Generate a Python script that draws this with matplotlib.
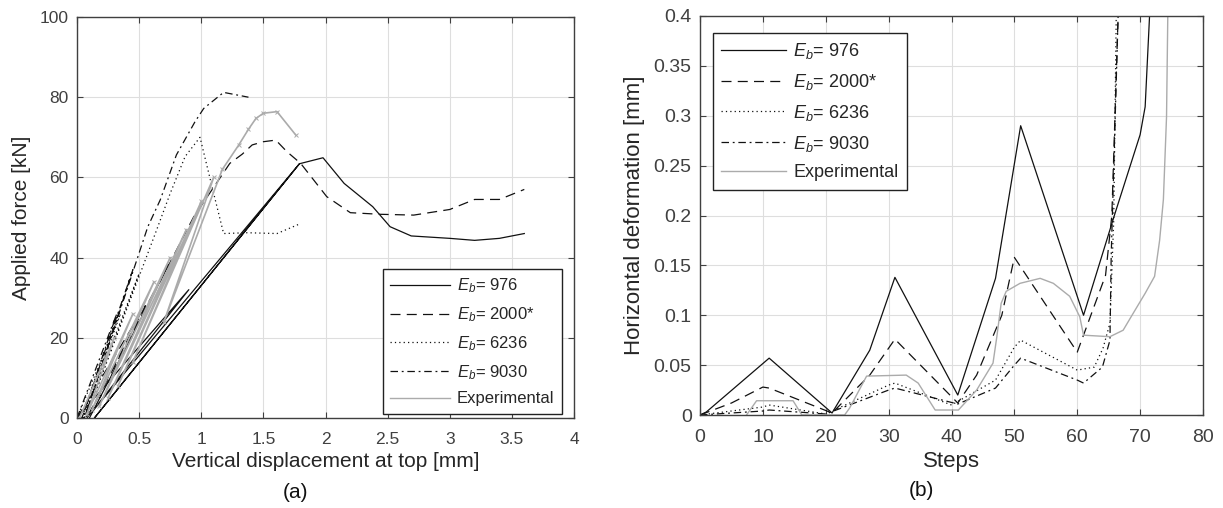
import matplotlib
matplotlib.use('Agg')
import matplotlib.pyplot as plt

plt.rcParams['font.family'] = ['Liberation Sans', 'DejaVu Sans']
plt.rcParams['mathtext.fontset'] = 'custom'
plt.rcParams['mathtext.it'] = 'Liberation Sans:italic'
plt.rcParams['mathtext.rm'] = 'Liberation Sans'

TEXT = '#262626'
GRAY_EXP = '#ababab'
LINE = '#111111'

# ---- panel (a): applied force vs vertical displacement ----
a_976_x = [0, 0.90, 0.08, 1.79, 0.14, 1.79, 1.98, 2.15, 2.38, 2.52, 2.69, 3.0, 3.2, 3.4, 3.6]
a_976_y = [0, 32.0, 0, 63.4, 0, 63.4, 64.9, 58.5, 52.7, 47.7, 45.4, 44.8, 44.3, 44.8, 46.0]

a_2000_x = [0, 0.55, 0.08, 0.75, 0.10, 0.94, 1.23, 1.33, 1.41, 1.50, 1.60, 1.69, 1.80, 2.01,
            2.20, 2.44, 2.71, 3.0, 3.2, 3.4, 3.6]
a_2000_y = [0, 28.0, 0, 39.0, 0, 50.2, 63.5, 65.8, 68.1, 68.9, 69.3, 66.4, 63.5, 55.2,
            51.2, 50.8, 50.6, 52.0, 54.5, 54.5, 57.0]

a_6236_x = [0, 0.35, 0.05, 0.50, 0.07, 0.63, 0.75, 0.87, 0.99, 1.10, 1.18, 1.37, 1.61, 1.80]
a_6236_y = [0, 26.0, 0, 36.0, 0, 46.0, 56.0, 65.2, 70.0, 56.0, 46.0, 46.2, 46.0, 48.5]

a_9030_x = [0, 0.32, 0.04, 0.45, 0.06, 0.57, 0.67, 0.80, 0.95, 1.02, 1.18, 1.38]
a_9030_y = [0, 26.0, 0, 37.0, 0, 47.7, 54.4, 65.6, 73.9, 77.2, 81.2, 80.0]

# experimental: load/unload cycles, then the final branch to the peak
a_exp_x = [0.02, 0.30, 0.08, 0.45, 0.12, 0.62, 0.18, 0.75, 0.25, 0.88, 0.33, 1.00, 0.45,
           1.10, 0.70, 1.17, 1.30, 1.38, 1.44, 1.50, 1.61, 1.76]
a_exp_y = [0, 20, 1, 26, 2, 34, 3, 40, 5, 47, 8, 54, 14,
           60, 24, 62, 68, 72, 74.7, 76.0, 76.4, 70.6]

# ---- panel (b): horizontal deformation vs steps ----
b_976_x = [0, 1, 11, 21, 27, 31, 41, 47, 51, 61, 66, 70, 70.8, 71.5]
b_976_y = [0, 0.003, 0.057, 0.002, 0.065, 0.138, 0.02, 0.137, 0.29, 0.100, 0.202, 0.281, 0.309, 0.40]

b_2000_x = [0, 5, 10, 11, 21, 27, 31, 41, 44, 48, 50, 60, 64.5, 65.5, 66.5]
b_2000_y = [0, 0.012, 0.028, 0.027, 0.002, 0.040, 0.076, 0.012, 0.040, 0.100, 0.158, 0.063,
            0.140, 0.200, 0.40]

b_6236_x = [0, 10, 11, 20, 30, 31, 40, 47, 50, 51, 60, 62.7, 64.1, 65.2, 65.8, 66.2]
b_6236_y = [0, 0.008, 0.010, 0.001, 0.030, 0.032, 0.010, 0.035, 0.068, 0.075, 0.045, 0.048,
            0.067, 0.092, 0.195, 0.40]

b_9030_x = [0, 10, 11, 20, 30, 31, 41, 47, 50, 51, 60, 61, 64, 65.2, 65.4, 66.5]
b_9030_y = [0, 0.004, 0.005, 0.001, 0.025, 0.027, 0.011, 0.027, 0.050, 0.057, 0.035, 0.032,
            0.048, 0.075, 0.160, 0.40]

b_exp_x = [7.4, 9.0, 14.8, 16.2, 23.0, 23.8, 26.5, 32.8, 34.7, 37.4, 41.1, 44.0, 46.6, 47.2,
           47.9, 48.7, 50.9, 54.1, 56.2, 58.8, 60.4, 61.0, 65.2, 67.3, 68.9, 70.8, 72.3, 73.1,
           73.7, 74.2, 74.4]
b_exp_y = [0, 0.0143, 0.0143, 0, 0, 0.007, 0.039, 0.040, 0.032, 0.005, 0.005, 0.025, 0.052,
           0.078, 0.112, 0.124, 0.132, 0.137, 0.132, 0.119, 0.0985, 0.080, 0.0785, 0.085,
           0.102, 0.122, 0.139, 0.175, 0.216, 0.299, 0.40]

labels = [r'$E_b$= 976', r'$E_b$= 2000*', r'$E_b$= 6236', r'$E_b$= 9030', 'Experimental']
styles = [dict(ls='-'), dict(ls=(0, (8, 5))), dict(ls=(0, (1, 2.5))), dict(ls=(0, (6, 3, 1.5, 3)))]

W, H = 1223, 508
fig = plt.figure(figsize=(W / 100, H / 100), dpi=100)


def px_box(x0, x1, top, bottom):
    return [x0 / W, (H - bottom) / H, (x1 - x0) / W, (bottom - top) / H]


def style_axes(ax, fs):
    ax.grid(True, color='#dedede', linewidth=0.8)
    ax.set_axisbelow(True)
    ax.tick_params(direction='in', top=True, right=True, labelsize=fs, colors='#404040',
                   length=4, width=0.8, pad=6)
    ax.tick_params(axis='x', pad=10)
    for s in ax.spines.values():
        s.set_color('#404040')
        s.set_linewidth(1.0)


ax1 = fig.add_axes(px_box(77, 574, 17, 418))
series_a = [(a_976_x, a_976_y), (a_2000_x, a_2000_y), (a_6236_x, a_6236_y), (a_9030_x, a_9030_y)]
for (x, y), st, lab in zip(series_a, styles, labels):
    ax1.plot(x, y, color=LINE, lw=0.9, label=lab, **st)
ax1.plot(a_exp_x, a_exp_y, color=GRAY_EXP, lw=1.2, marker='x', ms=3, mew=0.7, label=labels[4])
ax1.set_xlim(0, 4)
ax1.set_ylim(0, 100)
ax1.set_xticks([0, 0.5, 1, 1.5, 2, 2.5, 3, 3.5, 4])
ax1.set_xticklabels(['0', '0.5', '1', '1.5', '2', '2.5', '3', '3.5', '4'])
ax1.set_yticks(range(0, 101, 20))
style_axes(ax1, 12.5)
ax1.set_xlabel('Vertical displacement at top [mm]', fontsize=15, color=TEXT, labelpad=4)
ax1.set_ylabel('Applied force [kN]', fontsize=15, color=TEXT, labelpad=6)
leg1 = ax1.legend(loc='lower right', bbox_to_anchor=(562 / W, (H - 414) / H),
                  bbox_transform=fig.transFigure, fontsize=12, handlelength=3.6,
                  handletextpad=0.4, labelspacing=0.6, borderpad=0.45, fancybox=False,
                  framealpha=1, edgecolor='#222222', borderaxespad=0)
leg1.get_frame().set_linewidth(1.0)
leg1.legend_handles[4].set_marker('')
leg1.legend_handles[4].set_linewidth(1.0)
for t in leg1.get_texts():
    t.set_color(TEXT)

ax2 = fig.add_axes(px_box(700, 1203, 16, 415))
series_b = [(b_976_x, b_976_y), (b_2000_x, b_2000_y), (b_6236_x, b_6236_y), (b_9030_x, b_9030_y)]
for (x, y), st, lab in zip(series_b, styles, labels):
    ax2.plot(x, y, color=LINE, lw=0.9, label=lab, **st)
ax2.plot(b_exp_x, b_exp_y, color=GRAY_EXP, lw=1.0, label=labels[4])
ax2.set_xlim(0, 80)
ax2.set_ylim(0, 0.4)
ax2.set_xticks(range(0, 81, 10))
ax2.set_yticks([0, 0.05, 0.1, 0.15, 0.2, 0.25, 0.3, 0.35, 0.4])
ax2.set_yticklabels(['0', '0.05', '0.1', '0.15', '0.2', '0.25', '0.3', '0.35', '0.4'])
style_axes(ax2, 14)
ax2.set_xlabel('Steps', fontsize=16, color=TEXT, labelpad=4)
ax2.set_ylabel('Horizontal deformation [mm]', fontsize=16, color=TEXT, labelpad=6)
leg2 = ax2.legend(loc='upper left', bbox_to_anchor=(713 / W, (H - 33) / H),
                  bbox_transform=fig.transFigure, fontsize=13, handlelength=3.6,
                  handletextpad=0.4, labelspacing=0.6, borderpad=0.45, fancybox=False,
                  framealpha=1, edgecolor='#222222', borderaxespad=0)
leg2.get_frame().set_linewidth(1.0)
for t in leg2.get_texts():
    t.set_color(TEXT)

fig.text(296 / W, (H - 493) / H, '(a)', ha='center', va='center', fontsize=15, color='#111111')
fig.text(921 / W, (H - 490) / H, '(b)', ha='center', va='center', fontsize=15, color='#111111')

fig.savefig('out.png', dpi=100)
